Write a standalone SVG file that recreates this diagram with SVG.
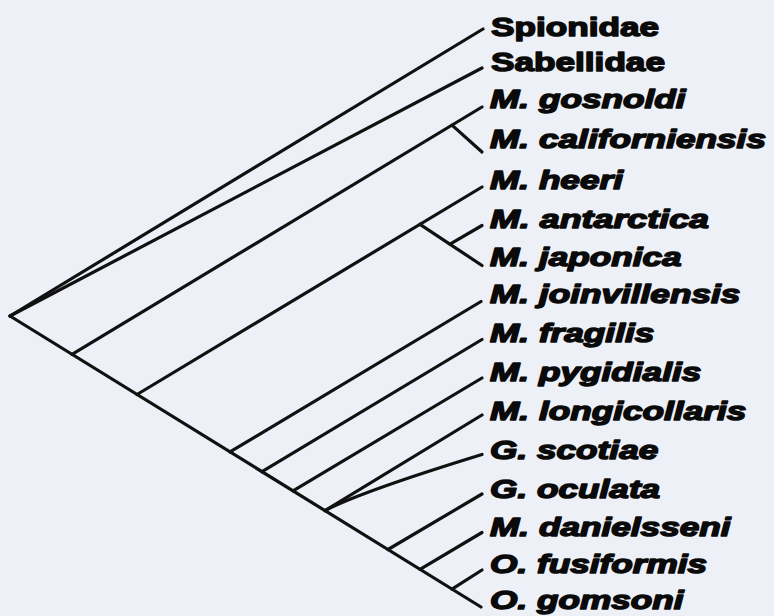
<svg xmlns="http://www.w3.org/2000/svg" width="774" height="616" viewBox="0 0 774 616">
  <style>
    .lbl { font-family: "Liberation Sans", Arial, Helvetica, sans-serif; font-weight: bold; font-size: 26.5px; fill: #0a0a0a; stroke: #0a0a0a; stroke-width: 1.5px; stroke-linejoin: round; }
    .it { font-style: italic; }
    .br { stroke: #111111; stroke-width: 3.2px; fill: none; stroke-linecap: round; stroke-linejoin: round; }
  </style>
  <rect x="0" y="0" width="774" height="616" fill="#eef0f7"/>
  <g id="connectors">
    <path class="br" d="M10,316 L483,29"/>
    <path class="br" d="M10,316 L482,68"/>
    <path class="br" d="M10,316 L481,607"/>
    <path class="br" d="M72,354.3 L482,107"/>
    <path class="br" d="M452,125.1 L482,152"/>
    <path class="br" d="M137,394.5 L482,187"/>
    <path class="br" d="M420,224.3 L482,265.5"/>
    <path class="br" d="M450,244.2 L482,225.5"/>
    <path class="br" d="M230,451.9 L481,301.5"/>
    <path class="br" d="M262,471.7 L482,339.5"/>
    <path class="br" d="M293,490.8 L482,378"/>
    <path class="br" d="M325,510.6 L482,415"/>
    <path class="br" d="M325,510.6 Q360,492 482,454.5"/>
    <path class="br" d="M388,549.5 L482,494"/>
    <path class="br" d="M420,569.3 L482,532.5"/>
    <path class="br" d="M452,589.1 L482,570"/>
  </g>
  <g id="spionidae"><text class="lbl" x="491" y="35.5" textLength="168" lengthAdjust="spacingAndGlyphs">Spionidae</text></g>
  <g id="sabellidae"><text class="lbl" x="491" y="71" textLength="174" lengthAdjust="spacingAndGlyphs">Sabellidae</text></g>
  <g id="m-gosnoldi"><text class="lbl it" x="490" y="108" textLength="195.6" lengthAdjust="spacingAndGlyphs">M. gosnoldi</text></g>
  <g id="m-californiensis"><text class="lbl it" x="490" y="148" textLength="276" lengthAdjust="spacingAndGlyphs">M. californiensis</text></g>
  <g id="m-heeri"><text class="lbl it" x="490" y="188.5" textLength="133" lengthAdjust="spacingAndGlyphs">M. heeri</text></g>
  <g id="m-antarctica"><text class="lbl it" x="490" y="227.5" textLength="219" lengthAdjust="spacingAndGlyphs">M. antarctica</text></g>
  <g id="m-japonica"><text class="lbl it" x="490" y="265.5" textLength="191.7" lengthAdjust="spacingAndGlyphs">M. japonica</text></g>
  <g id="m-joinvillensis"><text class="lbl it" x="490" y="303" textLength="250.4" lengthAdjust="spacingAndGlyphs">M. joinvillensis</text></g>
  <g id="m-fragilis"><text class="lbl it" x="490" y="341.5" textLength="164.3" lengthAdjust="spacingAndGlyphs">M. fragilis</text></g>
  <g id="m-pygidialis"><text class="lbl it" x="490" y="380.5" textLength="211.3" lengthAdjust="spacingAndGlyphs">M. pygidialis</text></g>
  <g id="m-longicollaris"><text class="lbl it" x="490" y="419.5" textLength="256.3" lengthAdjust="spacingAndGlyphs">M. longicollaris</text></g>
  <g id="g-scotiae"><text class="lbl it" x="490" y="458.5" textLength="168.3" lengthAdjust="spacingAndGlyphs">G. scotiae</text></g>
  <g id="g-oculata"><text class="lbl it" x="490" y="497.5" textLength="170.2" lengthAdjust="spacingAndGlyphs">G. oculata</text></g>
  <g id="m-danielsseni"><text class="lbl it" x="490" y="535.5" textLength="240.6" lengthAdjust="spacingAndGlyphs">M. danielsseni</text></g>
  <g id="o-fusiformis"><text class="lbl it" x="490" y="573" textLength="217.1" lengthAdjust="spacingAndGlyphs">O. fusiformis</text></g>
  <g id="o-gomsoni"><text class="lbl it" x="490" y="609" textLength="193.6" lengthAdjust="spacingAndGlyphs">O. gomsoni</text></g>
</svg>
